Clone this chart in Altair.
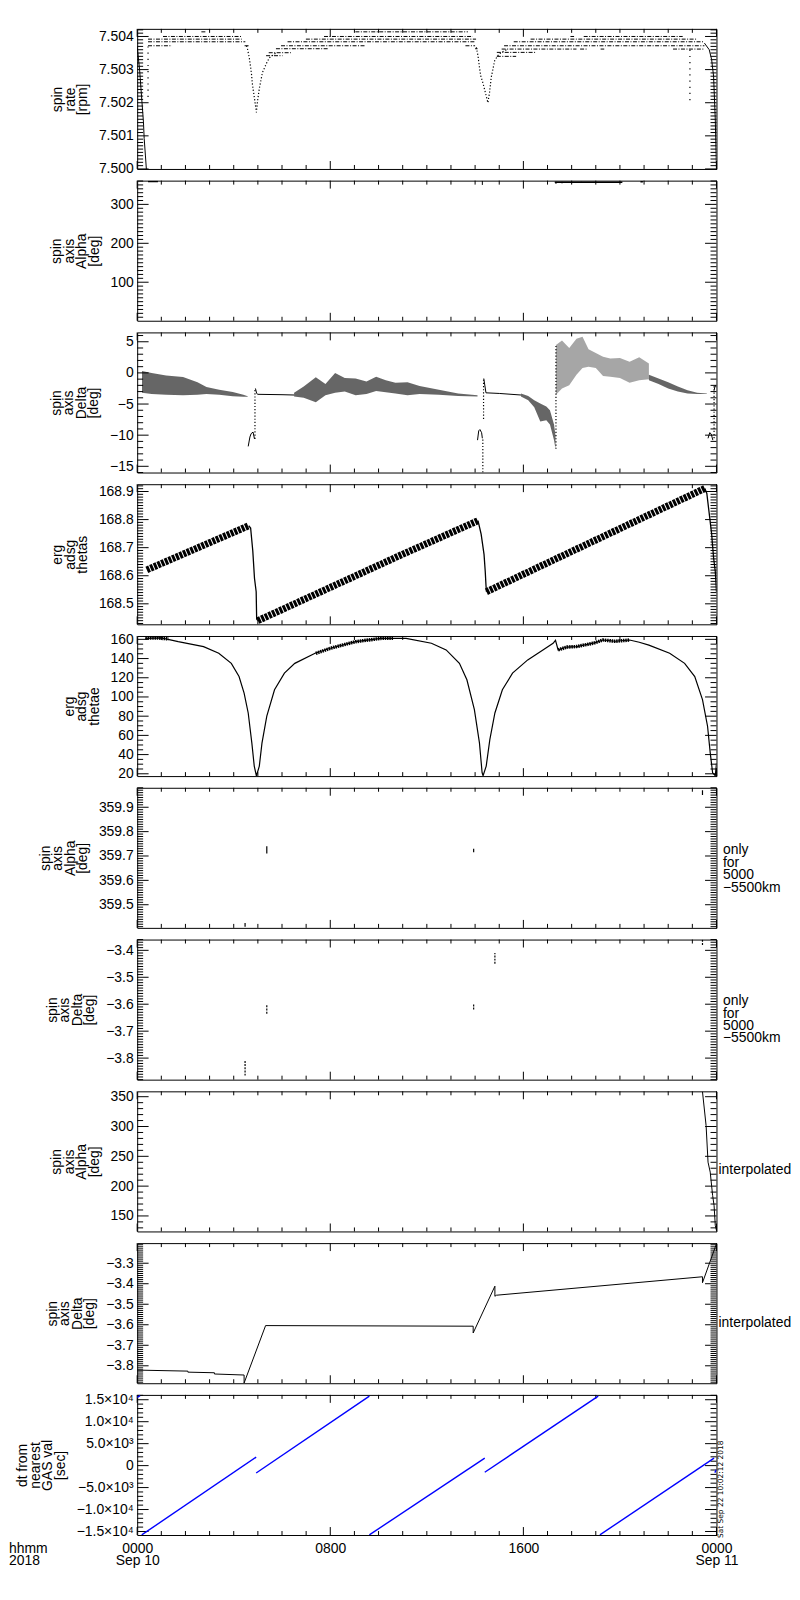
import altair as alt
import pandas as pd
import numpy as np

W, H = 583, 141
FONT = "Liberation Sans"
FS = 14

# ---------------- time axis (hours after 2018-09-10 00:00) ----------------
x_major = [0, 8, 16, 24]
x_minor = [h for h in range(25) if h % 8 != 0]
x_label_expr = ("datum.value == 0 ? ['0000', 'Sep 10'] : datum.value == 8 ? '0800' : "
                "datum.value == 16 ? '1600' : ['0000', 'Sep 11']")

# ---------------- panel 1 : spin rate [rpm] ----------------
rate_dash_t0 = [1.07, 2.66, 0.45, 0.45, 0.45, 4.45,
                9.04, 7.74, 6.99, 6.23, 5.96, 13.6, 5.75, 14.0, 5.45, 5.34,
                17.95, 18.5, 16.3, 15.6, 15.2, 15.1, 18.35, 19.2, 22.2, 14.9, 14.9]
rate_dash_t1 = [4.36, 2.84, 4.33, 4.48, 1.44, 4.65,
                13.7, 13.9, 14.04, 14.0, 9.45, 14.0, 7.94, 14.1, 6.37, 6.02,
                18.1, 22.6, 23.2, 23.5, 23.5, 18.2, 18.65, 19.35, 23.5, 16.5, 15.7]
rate_dash_v = [7.50400, 7.50414, 7.50392, 7.50384, 7.50372, 7.50372,
               7.50414, 7.50400, 7.50392, 7.50384, 7.50372, 7.50372, 7.50363, 7.50363, 7.50351, 7.50342,
               7.50400, 7.50400, 7.50392, 7.50384, 7.50372, 7.50362, 7.50362, 7.50362, 7.50362, 7.50352, 7.50340]
rate_start_t = [0.0, 0.1, 0.18, 0.26, 0.29, 0.34, 0.38]
rate_start_v = [7.5037, 7.5030, 7.5022, 7.50142, 7.50092, 7.50042, 7.5000]
rate_end_t = [23.5, 23.7, 23.8, 23.88, 23.95, 24.0]
rate_end_v = [7.5038, 7.5036, 7.5033, 7.5028, 7.5015, 7.5000]
rate_dip1_t = [4.53, 4.57, 4.65, 4.73, 4.78, 4.86, 4.94, 4.98, 5.06, 5.19, 5.35, 5.48, 5.76]
rate_dip1_v = [7.50372, 7.50363, 7.50333, 7.50291, 7.50252, 7.50213, 7.50171,
               7.50201, 7.50243, 7.50291, 7.50318, 7.50336, 7.50351]
rate_dip2_t = [14.05, 14.12, 14.16, 14.23, 14.33, 14.42, 14.53, 14.60, 14.67, 14.74, 14.81, 14.94, 15.08, 15.36]
rate_dip2_v = [7.50367, 7.50342, 7.50318, 7.50282, 7.50258, 7.50232, 7.50200,
               7.50232, 7.50277, 7.50302, 7.50327, 7.50342, 7.50352, 7.50362]
rate_drop_t = [0.45, 22.9]
rate_drop_hi = [7.5037, 7.5036]
rate_drop_lo = [7.5021, 7.5020]

# ---------------- panel 2 : spin axis Alpha [deg] ----------------
alpha_seg_t0 = [0.45, 17.3, 20.85]
alpha_seg_t1 = [0.86, 20.1, 20.95]
alpha_seg_v = [359.0, 357.0, 358.0]
alpha_spike_t = [14.3, 17.35, 17.6, 18.0, 18.4]
alpha_spike_hi = [360.5, 358.0, 358.0, 358.0, 358.0]
alpha_spike_lo = [350.0, 352.6, 354.0, 354.5, 355.0]

# ---------------- panel 3 : spin axis Delta [deg] ----------------
dA_t = [0.2, 0.6, 1.2, 1.9, 2.5, 2.87, 3.4, 3.96, 4.4, 4.58]
dA_hi = [0.3, 0.0, -0.4, -0.64, -1.5, -2.25, -2.7, -3.05, -3.5, -3.75]
dA_lo = [-3.2, -3.4, -3.5, -3.6, -3.5, -3.4, -3.5, -3.76, -3.85, -3.85]
dB_t = [6.5, 6.9, 7.4, 7.8, 8.2, 8.6, 9.05, 9.5, 9.9, 10.3, 10.7, 11.2, 11.7, 12.5, 13.3, 14.1]
dB_hi = [-3.2, -2.2, -0.7, -1.8, 0.0, -0.8, -0.9, -1.4, -0.6, -1.2, -1.6, -1.5, -2.1, -2.7, -3.3, -3.6]
dB_lo = [-3.8, -4.0, -4.7, -3.6, -3.2, -3.0, -3.6, -3.4, -2.9, -3.1, -3.3, -3.6, -3.4, -3.5, -3.7, -3.8]
dC_t = [15.9, 16.2, 16.45, 16.7, 16.95, 17.1, 17.27, 17.33]
dC_hi = [-3.3, -3.7, -4.4, -4.9, -5.4, -6.0, -8.3, -10.0]
dC_lo = [-3.8, -4.4, -5.5, -7.8, -7.6, -8.3, -10.8, -12.2]
dD_t = [17.35, 17.6, 17.9, 18.2, 18.45, 18.7, 19.0, 19.3, 19.6, 20.0, 20.4, 20.8, 21.2]
dD_hi = [4.5, 5.2, 4.0, 5.5, 5.8, 3.8, 3.2, 2.6, 2.3, 2.4, 1.8, 2.5, 1.5]
dD_lo = [-3.5, -2.5, -2.0, -0.3, 0.8, 1.0, 0.8, -0.5, -0.6, -0.8, -1.6, -1.2, -1.0]
dE_t = [21.2, 21.6, 22.0, 22.4, 22.8, 23.2, 23.6]
dE_hi = [-0.3, -0.9, -1.5, -2.2, -2.8, -3.2, -3.3]
dE_lo = [-1.2, -1.8, -2.5, -3.0, -3.3, -3.4, -3.4]
d_lines_t = [[4.6, 4.67, 4.72, 4.8, 4.86], [4.9, 4.95, 5.0, 6.0, 6.5],
             [14.1, 14.15, 14.2, 14.27, 14.3], [14.36, 14.45, 15.0, 15.9],
             [23.65, 23.72, 23.78, 23.85], [23.9, 23.95, 24.0]]
d_lines_v = [[-11.8, -10.3, -9.76, -9.5, -10.6], [-2.5, -3.3, -3.44, -3.5, -3.55],
             [-10.8, -9.3, -9.1, -9.6, -10.5], [-0.9, -3.2, -3.3, -3.55],
             [-10.5, -9.6, -9.8, -10.8], [-2.8, -2.0, -2.3]]
d_dot_t = [4.88, 14.32, 14.35, 17.35, 23.9]
d_dot_lo = [-10.6, -16.0, -7.4, -12.2, -10.5]
d_dot_hi = [-2.5, -10.5, -0.9, 4.5, -2.0]

# ---------------- panel 4 : erg adsg thetas ----------------
ths_rise_t = [[0.4, 4.62], [5.0, 10.83, 14.12], [14.47, 23.52]]
ths_rise_v = [[168.621, 168.778], [168.440, 168.670, 168.796], [168.543, 168.911]]
ths_drop_t = [[4.62, 4.7, 4.79, 4.86, 4.93, 4.95, 5.0],
              [14.12, 14.25, 14.37, 14.42, 14.45, 14.47],
              [23.52, 23.6, 23.7, 23.8, 23.88, 23.95, 24.0]]
ths_drop_v = [[168.778, 168.77, 168.688, 168.591, 168.543, 168.446, 168.44],
              [168.796, 168.748, 168.676, 168.615, 168.567, 168.543],
              [168.911, 168.893, 168.821, 168.748, 168.664, 168.615, 168.543]]

# ---------------- panel 5 : erg adsg thetae ----------------
the_t = [0.34, 1.0, 1.7, 2.75, 3.38, 3.9, 4.22, 4.43, 4.6, 4.75, 4.85, 4.94, 5.06, 5.17, 5.37,
         5.69, 6.1, 6.53, 7.37, 8.0, 9.05, 10.1, 11.14, 12.19, 12.8, 13.35, 13.66, 13.97, 14.18,
         14.29, 14.33, 14.46, 14.61, 14.82, 15.13, 15.55, 16.18, 16.81, 17.23, 17.33, 17.44, 17.8,
         18.2, 18.5, 18.9, 19.3, 19.8, 20.4, 20.8, 21.2, 22.06, 22.68, 23.1, 23.42, 23.63, 23.74,
         23.84, 23.95, 24.0]
the_v = [161.0, 161.5, 157.6, 152.4, 145.5, 135.0, 121.3, 104.0, 83.3, 52.2, 28.0, 17.7, 28.0, 52.0,
         80.0, 107.5, 124.8, 135.0, 145.5, 150.7, 157.6, 161.0, 161.0, 155.9, 149.0, 135.0, 117.9,
         86.8, 52.2, 21.1, 18.0, 28.0, 55.6, 83.3, 107.5, 124.8, 138.6, 149.0, 155.9, 159.0, 149.0,
         152.0, 152.5, 154.0, 156.0, 159.3, 158.0, 159.3, 157.0, 154.0, 145.5, 135.0, 121.3, 97.2,
         69.5, 42.0, 21.0, 18.0, 31.0]
the_thick_t = [[0.34, 0.8, 1.3], [7.4, 8.0, 9.05, 10.1, 10.6], [17.44, 17.8, 18.2, 18.5, 18.9, 19.3, 19.8, 20.4]]
the_thick_v = [[161.5, 161.5, 160.5], [145.5, 150.7, 157.6, 161.0, 161.2],
               [149.0, 152.0, 152.5, 154.0, 156.0, 159.3, 158.0, 159.3]]

# ---------------- panels 6/7 : only for 5000-5500 km ----------------
a6_t = [4.47, 5.37, 13.94, 23.42]
a6_lo = [359.41, 359.71, 359.715, 359.95]
a6_hi = [359.425, 359.74, 359.73, 359.97]
d7_t = [4.47, 5.37, 13.94, 14.82, 23.42]
d7_lo = [-3.865, -3.635, -3.62, -3.45, -3.38]
d7_hi = [-3.81, -3.60, -3.60, -3.41, -3.36]

# ---------------- panel 8 : Alpha interpolated ----------------
ai_t = [23.42, 23.57, 23.65, 23.74, 23.84, 23.9, 23.95, 24.0]
ai_v = [358.4, 301.5, 240.2, 223.5, 184.4, 167.7, 134.3, 126.0]

# ---------------- panel 9 : Delta interpolated ----------------
di_t = [0.0, 2.1, 2.1, 3.2, 3.2, 4.43, 4.43, 5.32, 5.32, 13.92, 13.92, 14.82, 14.82, 14.88,
        23.42, 23.42, 24.0]
di_v = [-3.821, -3.826, -3.831, -3.834, -3.840, -3.845, -3.884, -3.604, -3.604, -3.607, -3.640,
        -3.412, -3.461, -3.456, -3.366, -3.395, -3.205]

# ---------------- panel 10 : dt from nearest GAS val [sec] ----------------
dt_t = [[0.0, 0.12], [0.19, 4.93], [4.93, 9.62], [9.62, 14.4], [14.4, 19.1], [19.17, 23.9], [23.93, 24.0]]
dt_v = [[15500, 15950], [-15770, 1946], [-1674, 15837], [-15770, 1720], [-1516, 15837],
        [-15770, 1720], [-1600, -900]]
dt_labels = ("datum.value == 15000 ? '1.5×10⁴' : datum.value == 10000 ? '1.0×10⁴' : "
             "datum.value == 5000 ? '5.0×10³' : datum.value == 0 ? '0' : "
             "datum.value == -5000 ? '−5.0×10³' : datum.value == -10000 ? '−1.0×10⁴' : '−1.5×10⁴'")


# ======================= helpers =======================
def lines_df(ts, vs):
    rows = []
    for s, (tt, vv) in enumerate(zip(ts, vs)):
        for i, (a, b) in enumerate(zip(tt, vv)):
            rows.append({"t": a, "v": b, "seg": s, "i": i})
    return pd.DataFrame(rows)


def band_df(t, hi, lo, seg=0):
    return pd.DataFrame({"t": t, "v": hi, "v2": lo, "seg": seg})


def tick_vals(lo, hi, step, exclude=()):
    n0 = int(np.ceil(lo / step - 1e-9))
    n1 = int(np.floor(hi / step + 1e-9))
    out = []
    for n in range(n0, n1 + 1):
        v = round(n * step, 6)
        if all(abs(v - e) > step * 1e-3 for e in exclude):
            out.append(v)
    return out


xsc = alt.Scale(domain=[0, 24], nice=False, zero=False)


def make_panel(ydom, ystep_major, ystep_minor, fmt, title, marks, bottom=False,
               label_expr=None, notes=()):
    ysc = alt.Scale(domain=ydom, nice=False, zero=False)
    ymaj = tick_vals(ydom[0], ydom[1], ystep_major)
    ymin = tick_vals(ydom[0], ydom[1], ystep_minor, exclude=ymaj)
    axkw = dict(values=ymaj, ticks=False, domain=False, grid=False, title=title,
                labelPadding=4, titlePadding=9, labelFlush=False, labelOverlap=False,
                titleLineHeight=12.5, labelBaseline="middle")
    if label_expr:
        axkw["labelExpr"] = label_expr
    else:
        axkw["format"] = fmt
    Y = alt.Y("v:Q", scale=ysc, axis=alt.Axis(**axkw))
    if bottom:
        xax = alt.Axis(values=x_major, labelExpr=x_label_expr, ticks=False, domain=False,
                       grid=False, title=None, labelPadding=7, labelLineHeight=12,
                       labelFlush=False, labelOverlap=False, labelBaseline="top")
    else:
        xax = None
    X = alt.X("t:Q", scale=xsc, axis=xax)

    layers = []
    # y ticks (inward, both sides)
    for vals, L in ((ymaj, 11.5), (ymin, 6)):
        d = alt.Chart(pd.DataFrame({"v": vals}))
        layers.append(d.mark_rule(color="black", strokeWidth=1).encode(
            y=Y, x=alt.value(0), x2=alt.value(L)))
        layers.append(d.mark_rule(color="black", strokeWidth=1).encode(
            y=Y, x=alt.value(W - L), x2=alt.value(W)))
    # x ticks (inward, top and bottom)
    for vals, L in ((x_major, 8), (x_minor, 4)):
        d = alt.Chart(pd.DataFrame({"t": vals}))
        layers.append(d.mark_rule(color="black", strokeWidth=1).encode(
            x=X, y=alt.value(H - L), y2=alt.value(H)))
        layers.append(d.mark_rule(color="black", strokeWidth=1).encode(
            x=X, y=alt.value(0), y2=alt.value(L)))

    for kind, df, style in marks:
        base = alt.Chart(df)
        st = dict(clip=True)
        st.update(style)
        if kind == "line":
            layers.append(base.mark_line(**st).encode(
                x=X, y=Y, detail="seg:N", order=alt.Order("i:Q")))
        elif kind == "area":
            layers.append(base.mark_area(**st).encode(
                x=X, y=Y, y2="v2:Q", detail="seg:N"))
        elif kind == "hrule":
            layers.append(base.mark_rule(**st).encode(x=X, x2="t2:Q", y=Y))
        elif kind == "vrule":
            layers.append(base.mark_rule(**st).encode(x=X, y=Y, y2="v2:Q"))

    one = pd.DataFrame({"a": [0]})
    for txt, xx, yy, kw in notes:
        mk = dict(text=txt, font=FONT, fontSize=FS, color="black", align="left",
                  baseline="top", lineHeight=12.5)
        mk.update(kw)
        layers.append(alt.Chart(one).mark_text(**mk).encode(x=alt.value(xx), y=alt.value(yy)))

    return alt.layer(*layers).properties(width=W, height=H)


BLACK = dict(color="black", strokeWidth=1)

# ----- panel 1 -----
p1 = make_panel(
    [7.5000, 7.50423], 0.001, 0.0001, ".3f", ["spin", "rate", "[rpm]"],
    [
        ("hrule", pd.DataFrame({"t": rate_dash_t0, "t2": rate_dash_t1, "v": rate_dash_v}),
         dict(color="black", strokeWidth=1, strokeDash=[4, 1.5, 1, 1.5])),
        ("line", lines_df([rate_start_t, rate_end_t], [rate_start_v, rate_end_v]), BLACK),
        ("line", lines_df([rate_dip1_t, rate_dip2_t], [rate_dip1_v, rate_dip2_v]),
         dict(color="black", strokeWidth=1.2, strokeDash=[1.2, 2])),
        ("vrule", pd.DataFrame({"t": rate_drop_t, "v": rate_drop_hi, "v2": rate_drop_lo}),
         dict(color="black", strokeWidth=1.2, strokeDash=[1.2, 5])),
    ])

# ----- panel 2 -----
p2 = make_panel(
    [1.0, 361], 100, 10, "d", ["spin", "axis", "Alpha", "[deg]"],
    [
        ("hrule", pd.DataFrame({"t": alpha_seg_t0, "t2": alpha_seg_t1, "v": alpha_seg_v}),
         dict(color="black", strokeWidth=1.5)),
        ("vrule", pd.DataFrame({"t": alpha_spike_t, "v": alpha_spike_hi, "v2": alpha_spike_lo}),
         dict(color="black", strokeWidth=1)),
    ])

# ----- panel 3 -----
bands3 = pd.concat([band_df(dA_t, dA_hi, dA_lo, 0), band_df(dB_t, dB_hi, dB_lo, 1),
                    band_df(dC_t, dC_hi, dC_lo, 2), band_df(dE_t, dE_hi, dE_lo, 4)])
p3 = make_panel(
    [-16, 6.5], 5, 1, "d", ["spin", "axis", "Delta", "[deg]"],
    [
        ("area", bands3, dict(color="black", opacity=0.6)),
        ("area", band_df(dD_t, dD_hi, dD_lo, 3), dict(color="black", opacity=0.35)),
        ("line", lines_df(d_lines_t, d_lines_v), BLACK),
        ("vrule", pd.DataFrame({"t": d_dot_t, "v": d_dot_lo, "v2": d_dot_hi}),
         dict(color="black", strokeWidth=1.2, strokeDash=[1.2, 2])),
    ])

# ----- panel 4 -----
p4 = make_panel(
    [168.427, 168.926], 0.1, 0.01, ".1f", ["erg", "adsg", "thetas"],
    [
        ("line", lines_df(ths_rise_t, ths_rise_v),
         dict(color="black", strokeWidth=7, strokeDash=[3, 1], strokeCap="butt")),
        ("line", lines_df(ths_drop_t, ths_drop_v), dict(color="black", strokeWidth=1.3)),
    ])

# ----- panel 5 -----
p5 = make_panel(
    [17.6, 163.5], 20, 5, "d", ["erg", "adsg", "thetae"],
    [
        ("line", lines_df([the_t], [the_v]), dict(color="black", strokeWidth=1.2)),
        ("line", lines_df(the_thick_t, the_thick_v),
         dict(color="black", strokeWidth=3.5, strokeDash=[1.5, 0.8])),
    ])

only_txt = ["\u00a0only", "for", "5000", "\u22125500km"]

# ----- panel 6 -----
p6 = make_panel(
    [359.405, 359.98], 0.1, 0.01, ".1f", ["spin", "axis", "Alpha", "[deg]"],
    [("vrule", pd.DataFrame({"t": a6_t, "v": a6_lo, "v2": a6_hi}),
      dict(color="black", strokeWidth=1.2))],
    notes=[(only_txt, W + 6.5, 56, {})])

# ----- panel 7 -----
p7 = make_panel(
    [-3.88, -3.36], 0.1, 0.01, ".1f", ["spin", "axis", "Delta", "[deg]"],
    [("vrule", pd.DataFrame({"t": d7_t, "v": d7_lo, "v2": d7_hi}),
      dict(color="black", strokeWidth=1.2, strokeDash=[2, 1.2]))],
    notes=[(only_txt, W + 6.5, 55, {})])

# ----- panel 8 -----
p8 = make_panel(
    [124, 359], 50, 10, "d", ["spin", "axis", "Alpha", "[deg]"],
    [("line", lines_df([ai_t], [ai_v]), BLACK)],
    notes=[("interpolated", W + 2, 79, dict(baseline="middle"))])

# ----- panel 9 -----
p9 = make_panel(
    [-3.885, -3.202], 0.1, 0.01, ".1f", ["spin", "axis", "Delta", "[deg]"],
    [("line", lines_df([di_t], [di_v]), BLACK)],
    notes=[("interpolated", W + 2, 80, dict(baseline="middle"))])

# ----- panel 10 -----
p10 = make_panel(
    [-15800, 16100], 5000, 1000, "d", ["dt from", "nearest", "GAS val", "[sec]"],
    [("line", lines_df(dt_t, dt_v), dict(color="#0000ff", strokeWidth=1.4))],
    bottom=True, label_expr=dt_labels,
    notes=[
        (["hhmm", "2018"], -129, H + 7, dict(lineHeight=12)),
        ("Sat Sep 22 10:02:12 2018", W + 5, 95,
         dict(angle=270, align="center", baseline="middle", fontSize=7.5, font="DejaVu Sans")),
    ])

chart = alt.vconcat(p1, p2, p3, p4, p5, p6, p7, p8, p9, p10,
                    spacing=11.75, bounds="flush").properties(
    padding={"left": 0, "top": 15, "right": 0, "bottom": 0}
).configure_view(stroke="black", strokeWidth=1).configure_axis(
    labelFont=FONT, labelFontSize=FS, titleFont=FONT, titleFontSize=FS,
    titleFontWeight="normal", labelColor="black", titleColor="black"
)

chart.save("out.html", embed_options={"renderer": "svg", "actions": False})
